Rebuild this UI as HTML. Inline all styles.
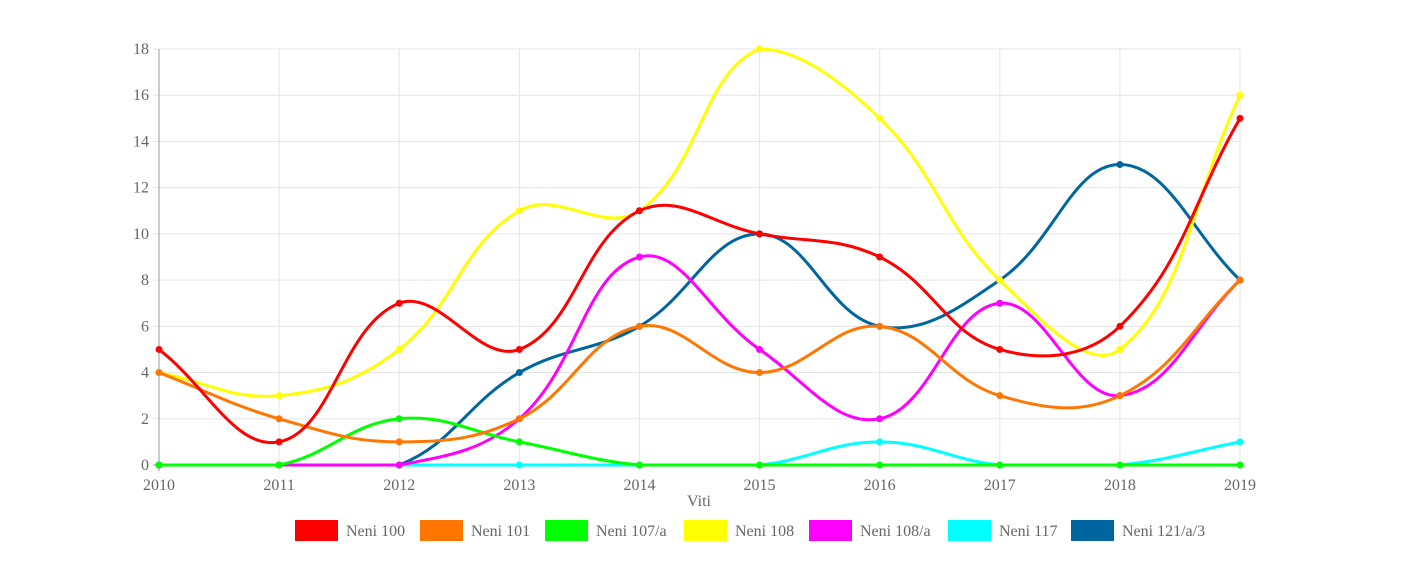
<!DOCTYPE html>
<html><head><meta charset="utf-8"><style>
body{margin:0;background:#fff;}
svg{display:block;font-family:"Liberation Serif",serif;}
</style></head><body>
<svg id="s" width="1404" height="587" xmlns="http://www.w3.org/2000/svg"></svg>
<script>
const s=document.getElementById('s');
const X0=159,DX=(1240-159)/9,Y0=465,DY=416/18;
let h='';
for(let i=0;i<=9;i++){const x=X0+i*DX;h+=`<line x1="${x}" y1="49" x2="${x}" y2="471" stroke="#e5e5e5"/>`;
h+=`<text x="${x}" y="490" font-size="16" fill="#666" text-anchor="middle">${2010+i}</text>`;}
for(let v=0;v<=18;v+=2){const y=Y0-v*DY;h+=`<line x1="153" y1="${y}" x2="1240" y2="${y}" stroke="#e5e5e5"/>`;
h+=`<text x="149" y="${y+5}" font-size="16" fill="#666" text-anchor="end">${v}</text>`;}
h+=`<line x1="159" y1="49" x2="159" y2="471" stroke="#999"/><line x1="153" y1="465" x2="1240" y2="465" stroke="#999"/>`;
h+=`<text x="699" y="506" font-size="16" fill="#666" text-anchor="middle">Viti</text>`;
const ds=[["Neni 100","#ff0000",[5,1,7,5,11,10,9,5,6,15]],
["Neni 101","#ff7700",[4,2,1,2,6,4,6,3,3,8]],
["Neni 107/a","#00ff00",[0,0,2,1,0,0,0,0,0,0]],
["Neni 108","#ffff00",[4,3,5,11,11,18,15,8,5,16]],
["Neni 108/a","#ff00ff",[0,0,0,2,9,5,2,7,3,8]],
["Neni 117","#00ffff",[0,0,0,0,0,0,1,0,0,1]],
["Neni 121/a/3","#0066a0",[0,0,0,4,6,10,6,8,13,8]]];
const cy=y=>Math.min(Y0,Math.max(49,y));
function path(d){const p=d.map((v,i)=>[X0+i*DX,Y0-v*DY]);const t=0.4;const cp=[];
for(let i=0;i<p.length;i++){const pr=p[Math.max(0,i-1)],c=p[i],nx=p[Math.min(p.length-1,i+1)];
const d01=Math.hypot(c[0]-pr[0],c[1]-pr[1]),d12=Math.hypot(nx[0]-c[0],nx[1]-c[1]);
let fa=d01/(d01+d12),fb=d12/(d01+d12);if(isNaN(fa))fa=0;if(isNaN(fb))fb=0;fa*=t;fb*=t;
cp.push([[c[0]-fa*(nx[0]-pr[0]),cy(c[1]-fa*(nx[1]-pr[1]))],[c[0]+fb*(nx[0]-pr[0]),cy(c[1]+fb*(nx[1]-pr[1]))]]);}
let s=`M${p[0][0]},${p[0][1]}`;for(let i=1;i<p.length;i++){s+=` C${cp[i-1][1][0]},${cp[i-1][1][1]} ${cp[i][0][0]},${cp[i][0][1]} ${p[i][0]},${p[i][1]}`;}
return [s,p];}
for(let k=ds.length-1;k>=0;k--){const [n,c,d]=ds[k];const [s2,p]=path(d);
h+=`<path d="${s2}" fill="none" stroke="${c}" stroke-width="3"/>`;
p.forEach(q=>h+=`<circle cx="${q[0]}" cy="${q[1]}" r="3.5" fill="${c}"/>`);}
const lx=[295,420,545,684,809,948,1071];
ds.forEach((d,i)=>{h+=`<rect x="${lx[i]}" y="520" width="43" height="21" fill="${d[1]}"/>`;
h+=`<text x="${lx[i]+51}" y="536" font-size="16" fill="#666">${d[0]}</text>`;});
s.innerHTML=h;
</script>
</body></html>
